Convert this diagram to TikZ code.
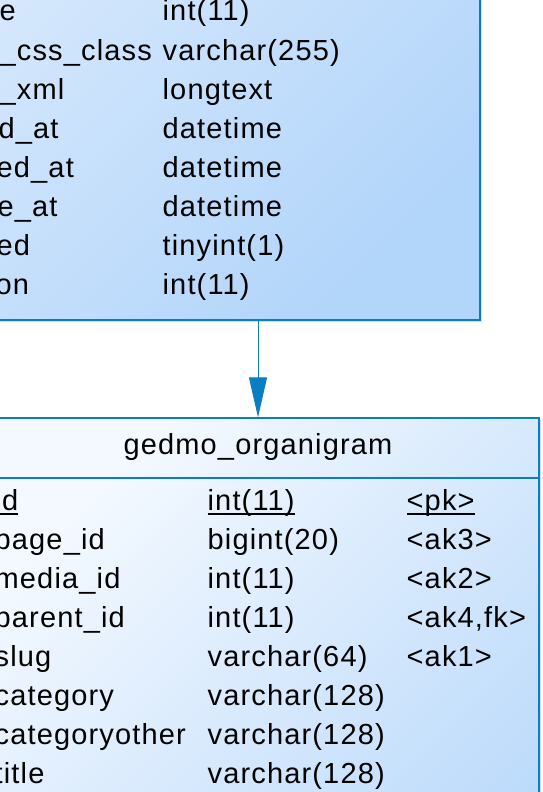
\documentclass[tikz,border=0pt]{standalone}
\usepackage{fontspec}
\setmainfont{Liberation Sans}[LetterSpace=4]
\usetikzlibrary{arrows.meta,shadows}
\definecolor{erline}{HTML}{0B7EC3}
\definecolor{erlight}{HTML}{F4F9FF}
\definecolor{erlighttop}{HTML}{DDECFD}
\definecolor{erdark}{HTML}{B2D5FA}
\definecolor{ershadow}{HTML}{CADFF2}
\newcommand{\pkline}[1]{\setbox0=\hbox{#1}\rlap{\rule[-4.5pt]{\wd0}{1.8pt}}\box0}

\begin{document}
\begin{tikzpicture}[x=1pt,y=-1pt,line width=1.3pt,>=Stealth,
  tbl/.style={draw=erline,rectangle,inner sep=0pt,top color=erlight,bottom color=erdark,
    shading angle=45,drop shadow={shadow xshift=2pt,shadow yshift=-2pt,fill=ershadow,opacity=1}},
  cell/.style={anchor=base west,inner sep=0pt,font=\fontsize{29}{35}\selectfont}]
\useasboundingbox (0,0) rectangle (543,792);
\clip (0,0) rectangle (543,792);
% ---------- upper table ----------
\node[tbl,top color=erlighttop,shading angle=45,minimum width=700pt,minimum height=400pt]
  (elementtbl) at (130,120) {};
\foreach \n/\t/\dx [count=\i from 0] in {e/int(11)/-1, \_css\_class/varchar(255)/-1,
    \_xml/longtext/-1, d\_at/datetime/-2, ed\_at/datetime/-4, e\_at/datetime/-3,
    ed/tinyint(1)/-4, on/int(11)/-5}
  {
  \node[cell] (e-\i-n) at (\dx,21+39.1*\i) {\n};
  \node[cell] (e-\i-t) at (162,21+39.1*\i) {\t};
  }
% ---------- gedmo_organigram ----------
\node[tbl,minimum width=562pt,minimum height=682pt] (organigram) at (258,759) {};
\node[cell,anchor=base] (o-title) at (258,454) {gedmo\_organigram};
\coordinate (o-sep) at (0,478);
\draw[erline] (organigram.west |- o-sep) -- (organigram.east |- o-sep);
% primary key row
\node[cell] (o-0-n) at (-6,510) {\pkline{id}};
\node[cell] (o-0-t) at (207,510) {\pkline{int(11)}};
\node[cell] (o-0-k) at (406,510) {\pkline{<pk>}};
\foreach \n/\t/\k [count=\i] in {page\_id/bigint(20)/<ak3>, media\_id/int(11)/<ak2>,
    {parent\_id/int(11)/<ak4,fk>}, slug/varchar(64)/<ak1>, category/varchar(128)/,
    categoryother/varchar(128)/, title/varchar(128)/}
  {
  \node[cell] (o-\i-n) at (-6,510+39.1*\i) {\n};
  \node[cell] (o-\i-t) at (207,510+39.1*\i) {\t};
  \node[cell] (o-\i-k) at (406,510+39.1*\i) {\k};
  }
% ---------- reference ----------
\draw[erline,line width=1pt,-{Triangle[length=40pt,width=18pt]}]
  (organigram.north |- elementtbl.south) -- (organigram.north);
\end{tikzpicture}
\end{document}
